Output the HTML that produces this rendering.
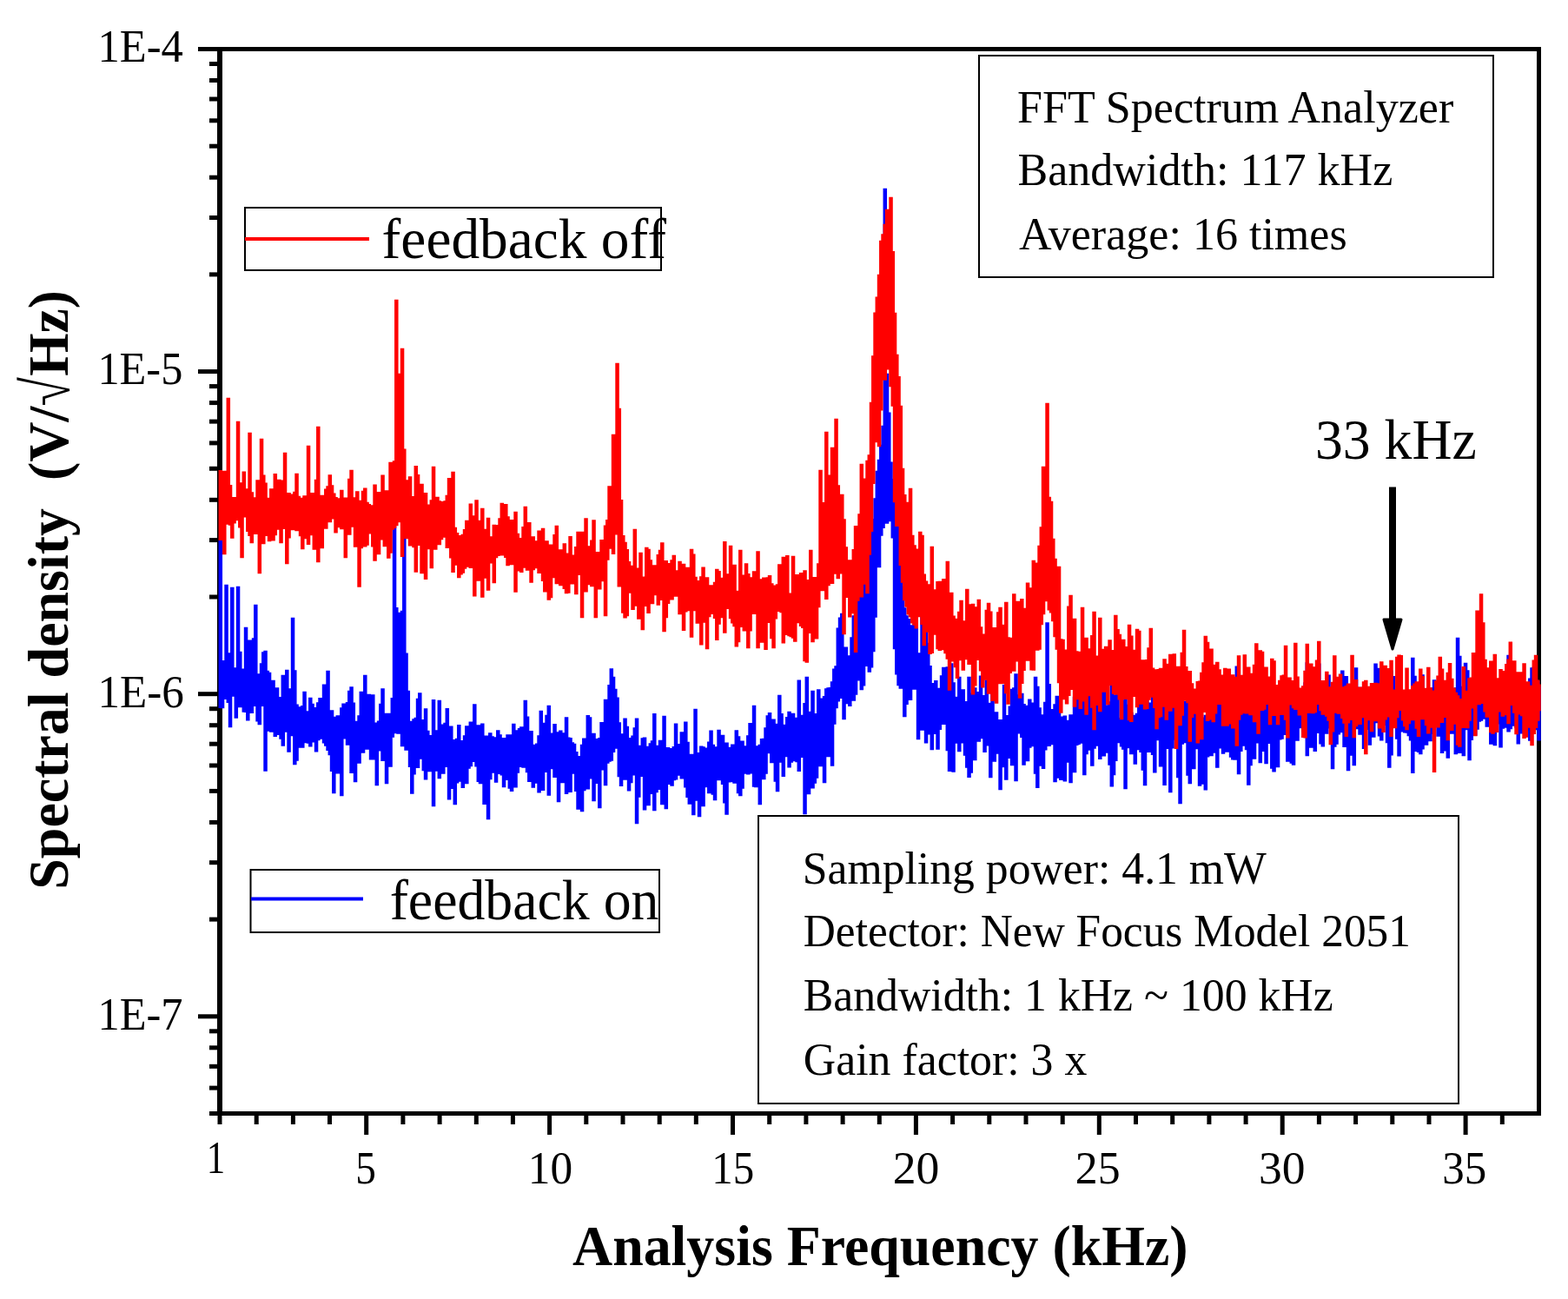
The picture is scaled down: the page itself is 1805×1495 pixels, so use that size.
<!DOCTYPE html>
<html><head><meta charset="utf-8"><title>Spectral density</title>
<style>html,body{margin:0;padding:0;background:#fff;} svg{display:block;}</style>
</head><body>
<svg width="1805" height="1495" viewBox="0 0 1805 1495"><rect x="0" y="0" width="1805" height="1495" fill="#fff"/>
<g fill="#000">
<rect x="250" y="54" width="6" height="1230"/>
<rect x="228" y="54" width="1546" height="5"/>
<rect x="1769" y="54" width="5" height="1230"/>
<rect x="241" y="1279" width="1533" height="5"/>
<rect x="228" y="425.1" width="24" height="5"/>
<rect x="241" y="313.4" width="11" height="5"/>
<rect x="241" y="248.0" width="11" height="5"/>
<rect x="241" y="201.7" width="11" height="5"/>
<rect x="241" y="165.7" width="11" height="5"/>
<rect x="241" y="136.3" width="11" height="5"/>
<rect x="241" y="111.5" width="11" height="5"/>
<rect x="241" y="90.0" width="11" height="5"/>
<rect x="241" y="71.0" width="11" height="5"/>
<rect x="228" y="796.2" width="24" height="5"/>
<rect x="241" y="684.5" width="11" height="5"/>
<rect x="241" y="619.1" width="11" height="5"/>
<rect x="241" y="572.8" width="11" height="5"/>
<rect x="241" y="536.8" width="11" height="5"/>
<rect x="241" y="507.4" width="11" height="5"/>
<rect x="241" y="482.6" width="11" height="5"/>
<rect x="241" y="461.1" width="11" height="5"/>
<rect x="241" y="442.1" width="11" height="5"/>
<rect x="228" y="1167.3" width="24" height="5"/>
<rect x="241" y="1055.6" width="11" height="5"/>
<rect x="241" y="990.2" width="11" height="5"/>
<rect x="241" y="943.9" width="11" height="5"/>
<rect x="241" y="907.9" width="11" height="5"/>
<rect x="241" y="878.5" width="11" height="5"/>
<rect x="241" y="853.7" width="11" height="5"/>
<rect x="241" y="832.2" width="11" height="5"/>
<rect x="241" y="813.2" width="11" height="5"/>
<rect x="241" y="1249.6" width="11" height="5"/>
<rect x="241" y="1224.8" width="11" height="5"/>
<rect x="241" y="1203.3" width="11" height="5"/>
<rect x="241" y="1184.3" width="11" height="5"/>
<rect x="250.5" y="1282" width="5" height="12"/>
<rect x="292.7" y="1282" width="5" height="12"/>
<rect x="334.9" y="1282" width="5" height="12"/>
<rect x="377.0" y="1282" width="5" height="12"/>
<rect x="419.2" y="1282" width="5" height="24"/>
<rect x="461.4" y="1282" width="5" height="12"/>
<rect x="503.6" y="1282" width="5" height="12"/>
<rect x="545.8" y="1282" width="5" height="12"/>
<rect x="587.9" y="1282" width="5" height="12"/>
<rect x="630.1" y="1282" width="5" height="24"/>
<rect x="672.3" y="1282" width="5" height="12"/>
<rect x="714.5" y="1282" width="5" height="12"/>
<rect x="756.7" y="1282" width="5" height="12"/>
<rect x="798.8" y="1282" width="5" height="12"/>
<rect x="841.0" y="1282" width="5" height="24"/>
<rect x="883.2" y="1282" width="5" height="12"/>
<rect x="925.4" y="1282" width="5" height="12"/>
<rect x="967.6" y="1282" width="5" height="12"/>
<rect x="1009.8" y="1282" width="5" height="12"/>
<rect x="1051.9" y="1282" width="5" height="24"/>
<rect x="1094.1" y="1282" width="5" height="12"/>
<rect x="1136.3" y="1282" width="5" height="12"/>
<rect x="1178.5" y="1282" width="5" height="12"/>
<rect x="1220.7" y="1282" width="5" height="12"/>
<rect x="1262.8" y="1282" width="5" height="24"/>
<rect x="1305.0" y="1282" width="5" height="12"/>
<rect x="1347.2" y="1282" width="5" height="12"/>
<rect x="1389.4" y="1282" width="5" height="12"/>
<rect x="1431.6" y="1282" width="5" height="12"/>
<rect x="1473.7" y="1282" width="5" height="24"/>
<rect x="1515.9" y="1282" width="5" height="12"/>
<rect x="1558.1" y="1282" width="5" height="12"/>
<rect x="1600.3" y="1282" width="5" height="12"/>
<rect x="1642.5" y="1282" width="5" height="12"/>
<rect x="1684.6" y="1282" width="5" height="24"/>
<rect x="1726.8" y="1282" width="5" height="12"/>
</g>
<g fill="none" stroke-width="4.5" stroke-linecap="square">
<path stroke="#0000ff" d="M253.80 624.2V812.8M256.05 772.2V813.1M258.30 762.2V802.7M260.55 675.0V797.1M262.80 754.8V806.7M265.05 753.5V835.0M267.30 678.0V797.7M269.55 771.5V799.6M271.80 770.5V824.4M274.05 677.0V803.5M276.30 752.0V812.0M278.55 774.2V811.1M280.80 771.8V817.6M283.05 724.0V817.7M285.30 782.9V827.2M287.55 738.8V814.5M289.80 766.2V818.8M292.05 736.5V810.7M294.30 698.0V810.8M296.55 777.5V828.3M298.80 779.5V831.9M301.05 765.5V810.7M303.30 752.4V809.6M305.55 751.0V885.5M307.80 774.0V824.2M310.05 776.1V839.5M312.30 787.8V840.6M314.55 784.9V830.5M316.80 800.6V845.7M319.05 793.6V831.6M321.30 805.6V843.7M323.55 804.3V848.6M325.80 779.0V856.5M328.05 785.4V840.6M330.30 773.0V830.0M332.55 794.6V863.5M334.80 805.3V845.1M337.05 713.0V843.4M339.30 773.5V878.0M341.55 812.8V873.5M343.80 815.5V858.4M346.05 816.8V855.6M348.30 814.2V858.4M350.55 798.1V853.1M352.80 820.5V852.5M355.05 822.6V853.6M357.30 805.0V857.3M359.55 812.0V852.3M361.80 816.3V845.8M364.05 819.0V863.3M366.30 810.6V849.9M368.55 805.2V835.8M370.80 810.8V848.6M373.05 789.8V853.2M375.30 827.4V856.6M377.55 774.0V861.8M379.80 837.5V866.9M382.05 819.6V885.8M384.30 833.4V911.0M386.55 826.9V860.1M388.80 825.4V888.2M391.05 830.7V863.3M393.30 816.5V914.0M395.55 811.7V848.3M397.80 821.0V844.5M400.05 810.2V855.5M402.30 797.0V849.3M404.55 792.5V887.7M406.80 810.8V867.8M409.05 832.0V898.0M411.30 833.1V868.7M413.55 825.4V876.4M415.80 798.0V861.9M418.05 802.1V864.6M420.30 779.0V856.5M422.55 829.5V860.4M424.80 801.0V858.2M427.05 821.2V872.2M429.30 801.5V872.3M431.55 833.8V858.2M433.80 837.0V902.0M436.05 831.7V862.3M438.30 812.0V858.4M440.55 794.4V873.7M442.80 829.8V859.4M445.05 823.0V900.0M447.30 829.6V850.5M449.55 823.0V880.4M451.80 805.2V846.6M454.05 594.0V842.1M456.30 701.2V834.3M458.55 707.4V842.4M460.80 706.9V829.1M463.05 705.0V857.1M465.30 622.0V838.4M467.55 753.7V861.4M469.80 797.0V861.6M472.05 844.4V880.7M474.30 831.9V911.6M476.55 829.5V889.3M478.80 828.1V874.5M481.05 806.0V881.7M483.30 799.4V871.6M485.55 830.3V862.5M487.80 837.2V885.1M490.05 817.4V895.2M492.30 843.1V871.6M494.55 848.3V885.9M496.80 851.0V875.3M499.05 807.3V926.0M501.30 851.6V885.6M503.55 842.6V874.1M505.80 808.0V894.1M508.05 836.9V887.6M510.30 835.7V888.5M512.55 834.1V876.7M514.80 817.2V880.7M517.05 855.3V918.2M519.30 837.8V905.7M521.55 858.2V886.6M523.80 853.3V924.0M526.05 852.1V899.2M528.30 836.3V882.0M530.55 854.2V897.6M532.80 854.7V904.7M535.05 848.6V894.8M537.30 837.5V899.9M539.55 838.5V882.5M541.80 832.7V880.0M544.05 835.0V870.4M546.30 812.4V874.8M548.55 851.4V880.3M550.80 836.4V897.8M553.05 863.6V900.0M555.30 834.7V888.7M557.55 853.0V923.7M559.80 848.8V894.8M562.05 861.4V941.0M564.30 845.6V895.1M566.55 849.4V887.6M568.80 850.6V873.7M571.05 855.7V898.4M573.30 842.5V888.7M575.55 847.5V886.3M577.80 852.1V890.2M580.05 851.2V904.0M582.30 852.1V891.6M584.55 847.5V895.7M586.80 855.7V905.6M589.05 847.5V908.7M591.30 835.0V894.5M593.55 859.3V904.3M595.80 842.4V887.4M598.05 840.3V880.7M600.30 838.4V879.4M602.55 858.1V881.5M604.80 808.0V881.2M607.05 826.8V886.9M609.30 854.4V897.8M611.55 843.3V889.3M613.80 860.1V904.5M616.05 858.9V895.9M618.30 857.7V899.5M620.55 848.5V910.2M622.80 820.1V889.6M625.05 834.0V907.7M627.30 855.4V886.7M629.55 825.0V881.8M631.80 814.1V913.4M634.05 850.3V882.9M636.30 845.7V871.9M638.55 835.2V892.8M640.80 844.5V878.3M643.05 849.9V921.0M645.30 842.7V891.8M647.55 858.2V898.9M649.80 845.6V889.5M652.05 827.4V911.7M654.30 850.8V899.1M656.55 851.3V909.8M658.80 856.4V888.5M661.05 858.1V887.0M663.30 867.2V908.7M665.55 874.8V929.6M667.80 872.2V895.7M670.05 859.0V932.1M672.30 851.7V908.1M674.55 874.6V903.2M676.80 825.2V906.3M679.05 827.6V894.3M681.30 846.9V890.3M683.55 845.9V919.9M685.80 857.2V888.9M688.05 852.3V899.7M690.30 851.3V928.0M692.55 833.2V884.2M694.80 857.2V880.0M697.05 807.0V901.9M699.30 818.7V876.4M701.55 790.2V874.4M703.80 771.5V873.5M706.05 780.9V863.8M708.30 795.1V856.8M710.55 804.7V859.6M712.80 833.4V891.9M715.05 846.5V902.7M717.30 853.0V888.9M719.55 828.8V895.4M721.80 838.1V893.8M724.05 862.4V908.3M726.30 851.2V898.9M728.55 848.8V883.8M730.80 839.5V890.2M733.05 828.8V946.0M735.30 860.5V915.5M737.55 860.0V888.6M739.80 851.4V891.8M742.05 850.8V930.2M744.30 861.0V890.8M746.55 863.5V925.0M748.80 857.5V901.7M751.05 854.4V911.8M753.30 823.3V930.9M755.55 861.0V909.9M757.80 859.9V906.7M760.05 853.9V897.2M762.30 865.0V924.0M764.55 826.0V920.3M766.80 866.2V929.1M769.05 862.3V895.1M771.30 868.6V900.8M773.55 863.2V902.6M775.80 861.3V896.0M778.05 834.7V895.2M780.30 858.2V888.2M782.55 865.7V890.6M784.80 844.6V894.2M787.05 847.2V890.7M789.30 832.8V904.3M791.55 855.9V915.7M793.80 869.9V923.5M796.05 870.8V905.4M798.30 869.9V936.0M800.55 818.0V919.6M802.80 868.2V917.2M805.05 871.2V938.0M807.30 860.8V890.6M809.55 861.6V925.9M811.80 863.6V899.5M814.05 862.8V904.1M816.30 855.8V911.1M818.55 842.7V891.4M820.80 859.0V912.4M823.05 864.0V919.0M825.30 861.6V894.9M827.55 842.0V895.9M829.80 868.5V890.1M832.05 848.0V900.7M834.30 869.2V922.2M836.55 856.7V935.5M838.80 862.1V898.3M841.05 865.3V897.9M843.30 858.7V889.6M845.55 861.9V899.4M847.80 842.6V887.7M850.05 849.5V910.9M852.30 856.6V914.0M854.55 854.8V905.6M856.80 862.7V888.6M859.05 860.4V888.4M861.30 848.5V889.3M863.55 834.3V885.3M865.80 858.8V888.3M868.05 814.0V903.4M870.30 865.7V904.1M872.55 860.4V888.9M874.80 859.0V924.1M877.05 852.2V891.8M879.30 852.1V895.0M881.55 839.5V888.5M883.80 825.6V862.1M886.05 822.2V865.1M888.30 836.4V876.0M890.55 829.8V864.7M892.80 834.9V897.4M895.05 842.5V909.0M897.30 802.0V875.4M899.55 823.2V869.2M901.80 841.6V891.7M904.05 836.1V868.9M906.30 827.3V863.5M908.55 820.9V881.2M910.80 824.4V875.6M913.05 822.9V872.1M915.30 827.9V874.1M917.55 830.4V875.1M919.80 784.7V885.7M922.05 825.1V863.4M924.30 835.0V869.8M926.55 811.2V935.0M928.80 781.0V871.9M931.05 824.1V911.9M933.30 820.9V891.0M935.55 797.0V905.3M937.80 826.9V899.4M940.05 823.3V893.4M942.30 795.6V877.7M944.55 815.9V879.9M946.80 805.7V856.7M949.05 803.2V899.0M951.30 794.4V852.3M953.55 793.4V869.0M955.80 793.3V853.2M958.05 786.6V879.6M960.30 771.7V831.6M962.55 768.4V812.9M964.80 724.7V805.2M967.05 712.7V801.7M969.30 708.1V799.7M971.55 759.4V826.0M973.80 746.8V795.5M976.05 757.8V807.9M978.30 756.6V810.8M980.55 735.5V789.7M982.80 710.6V804.5M985.05 696.1V797.4M987.30 682.1V781.2M989.55 673.1V779.3M991.80 665.4V792.0M994.05 655.4V787.3M996.30 650.9V758.2M998.55 641.8V764.8M1000.80 634.1V771.5M1003.05 616.5V766.3M1005.30 599.2V748.0M1007.55 575.5V708.6M1009.80 544.1V645.3M1012.05 531.0V651.0M1014.30 514.0V614.4M1016.55 492.1V605.7M1018.80 219.0V580.9M1021.05 432.0V600.6M1023.30 476.7V581.8M1025.55 533.8V598.1M1027.80 553.2V617.2M1030.05 564.1V745.0M1032.30 588.6V774.3M1034.55 599.2V786.9M1036.80 635.7V790.4M1039.05 677.1V786.2M1041.30 701.4V823.0M1043.55 710.6V808.7M1045.80 714.3V791.4M1048.05 721.4V803.8M1050.30 730.2V790.4M1052.55 699.2V791.5M1054.80 724.5V786.6M1057.05 755.8V849.0M1059.30 753.5V837.7M1061.55 710.0V838.4M1063.80 776.1V830.9M1066.05 722.0V853.2M1068.30 742.0V843.2M1070.55 768.3V840.1M1072.80 808.4V861.1M1075.05 788.2V827.6M1077.30 785.2V842.7M1079.55 793.9V860.6M1081.80 797.0V837.8M1084.05 779.5V830.9M1086.30 770.1V831.8M1088.55 775.3V829.2M1090.80 769.4V862.0M1093.05 803.0V885.8M1095.30 765.5V838.0M1097.55 787.6V886.5M1099.80 804.0V846.3M1102.05 821.1V853.4M1104.30 781.0V862.9M1106.55 817.0V853.3M1108.80 795.4V852.5M1111.05 812.1V867.5M1113.30 809.3V881.5M1115.55 780.9V892.8M1117.80 802.4V887.4M1120.05 799.7V841.3M1122.30 793.5V873.0M1124.55 798.3V850.1M1126.80 812.5V851.5M1129.05 779.7V837.6M1131.30 802.2V848.1M1133.55 810.0V863.8M1135.80 784.6V847.8M1138.05 811.1V856.3M1140.30 814.1V893.0M1142.55 788.1V862.0M1144.80 827.5V874.5M1147.05 821.6V861.1M1149.30 830.7V865.5M1151.55 830.2V907.0M1153.80 835.1V881.0M1156.05 790.0V867.7M1158.30 833.0V895.6M1160.55 825.2V870.7M1162.80 814.7V850.8M1165.05 795.1V879.1M1167.30 793.4V839.6M1169.55 777.4V897.0M1171.80 801.6V835.9M1174.05 807.0V842.3M1176.30 800.0V846.8M1178.55 812.3V878.6M1180.80 823.3V864.6M1183.05 813.9V873.9M1185.30 806.7V858.4M1187.55 810.7V850.6M1189.80 826.0V857.0M1192.05 781.0V888.6M1194.30 792.0V904.7M1196.55 816.6V862.7M1198.80 824.6V879.5M1201.05 832.3V882.8M1203.30 810.1V861.3M1205.55 718.5V856.7M1207.80 789.2V856.7M1210.05 818.3V855.0M1212.30 822.6V849.8M1214.55 812.6V898.0M1216.80 803.1V893.6M1219.05 808.1V877.3M1221.30 826.8V895.8M1223.55 833.6V872.1M1225.80 825.8V897.2M1228.05 831.0V861.1M1230.30 835.3V875.4M1232.55 824.4V899.0M1234.80 825.8V862.0M1237.05 804.0V887.0M1239.30 817.4V855.7M1241.55 781.0V854.7M1243.80 777.6V853.5M1246.05 800.8V851.3M1248.30 814.0V890.0M1250.55 805.3V866.0M1252.80 775.8V850.4M1255.05 790.7V861.6M1257.30 801.5V879.4M1259.55 790.7V859.4M1261.80 813.3V856.5M1264.05 797.1V848.1M1266.30 795.6V871.7M1268.55 801.6V867.5M1270.80 787.4V868.2M1273.05 813.5V842.6M1275.30 814.7V864.4M1277.55 809.6V878.6M1279.80 782.3V903.2M1282.05 827.8V889.9M1284.30 801.5V873.8M1286.55 775.4V853.0M1288.80 828.2V852.8M1291.05 828.4V857.2M1293.30 807.7V860.6M1295.55 800.9V906.0M1297.80 827.5V858.0M1300.05 813.0V859.1M1302.30 822.1V866.0M1304.55 825.1V863.6M1306.80 828.5V877.5M1309.05 823.0V861.0M1311.30 801.1V854.5M1313.55 792.9V863.8M1315.80 820.1V884.5M1318.05 797.9V902.0M1320.30 785.6V843.3M1322.55 812.6V863.7M1324.80 810.8V849.7M1327.05 793.2V866.8M1329.30 814.8V887.3M1331.55 794.1V850.1M1333.80 815.9V844.8M1336.05 823.4V880.2M1338.30 790.1V849.7M1340.55 804.9V901.8M1342.80 797.9V859.7M1345.05 828.0V859.1M1347.30 777.2V910.0M1349.55 802.2V859.3M1351.80 815.6V849.5M1354.05 803.8V845.6M1356.30 796.9V893.0M1358.55 815.2V923.0M1360.80 800.5V854.6M1363.05 809.0V842.3M1365.30 819.5V852.9M1367.55 806.3V890.6M1369.80 801.3V899.9M1372.05 818.5V864.5M1374.30 818.4V883.0M1376.55 826.7V853.2M1378.80 818.8V860.0M1381.05 792.7V902.4M1383.30 832.0V879.1M1385.55 827.8V900.6M1387.80 825.1V907.3M1390.05 834.1V869.3M1392.30 825.7V860.1M1394.55 821.2V867.9M1396.80 830.1V858.4M1399.05 784.4V864.6M1401.30 823.8V881.6M1403.55 799.6V850.0M1405.80 823.9V859.3M1408.05 797.7V865.5M1410.30 804.1V859.0M1412.55 805.1V863.4M1414.80 818.1V855.1M1417.05 824.1V869.4M1419.30 822.5V872.2M1421.55 808.5V872.4M1423.80 768.7V840.4M1426.05 809.6V889.0M1428.30 782.8V862.8M1430.55 803.9V856.6M1432.80 806.3V840.0M1435.05 814.2V860.9M1437.30 784.8V901.6M1439.55 785.9V878.9M1441.80 798.7V857.7M1444.05 812.8V871.6M1446.30 816.6V851.9M1448.55 823.3V853.3M1450.80 796.4V875.9M1453.05 826.9V855.2M1455.30 814.6V862.7M1457.55 785.9V877.0M1459.80 820.0V853.8M1462.05 800.9V846.2M1464.30 809.1V882.6M1466.55 816.8V886.2M1468.80 804.6V839.5M1471.05 815.6V881.0M1473.30 792.3V849.3M1475.55 807.8V848.5M1477.80 802.8V843.7M1480.05 807.7V838.6M1482.30 803.0V874.5M1484.55 799.4V828.4M1486.80 807.5V876.6M1489.05 805.5V878.6M1491.30 802.2V845.5M1493.55 810.8V850.6M1495.80 794.9V832.7M1498.05 805.1V835.9M1500.30 810.4V840.4M1502.55 787.4V840.9M1504.80 764.4V868.0M1507.05 798.7V837.5M1509.30 811.7V858.4M1511.55 802.7V846.8M1513.80 813.5V862.8M1516.05 797.1V841.8M1518.30 765.8V833.2M1520.55 793.9V854.3M1522.80 802.7V857.2M1525.05 794.1V837.0M1527.30 815.2V842.5M1529.55 778.8V836.3M1531.80 808.8V836.2M1534.05 817.1V883.0M1536.30 803.6V857.4M1538.55 813.7V854.4M1540.80 812.4V843.3M1543.05 805.7V840.9M1545.30 773.8V833.1M1547.55 811.0V857.8M1549.80 780.2V834.0M1552.05 794.8V885.0M1554.30 802.9V867.4M1556.55 793.5V826.8M1558.80 790.3V879.0M1561.05 770.4V833.2M1563.30 805.4V837.1M1565.55 793.0V843.4M1567.80 802.9V839.8M1570.05 795.6V859.7M1572.30 794.6V836.7M1574.55 804.1V837.7M1576.80 798.9V855.4M1579.05 801.5V824.0M1581.30 800.0V846.4M1583.55 765.8V829.9M1585.80 771.0V829.1M1588.05 803.0V845.2M1590.30 801.1V850.3M1592.55 783.2V829.5M1594.80 774.1V832.8M1597.05 780.6V853.0M1599.30 781.8V881.5M1601.55 773.8V867.3M1603.80 780.3V832.3M1606.05 803.9V835.3M1608.30 808.1V848.4M1610.55 812.0V868.2M1612.80 809.4V839.1M1615.05 800.9V840.2M1617.30 808.0V841.2M1619.55 813.3V841.6M1621.80 800.3V845.0M1624.05 812.3V850.2M1626.30 759.0V887.7M1628.55 780.0V842.3M1630.80 811.3V862.8M1633.05 796.3V863.7M1635.30 824.5V866.0M1637.55 778.6V860.3M1639.80 809.5V842.3M1642.05 802.1V855.4M1644.30 798.4V836.9M1646.55 797.7V850.9M1648.80 793.6V842.8M1651.05 784.4V824.3M1653.30 799.2V828.3M1655.55 792.4V845.5M1657.80 796.3V842.7M1660.05 797.0V864.8M1662.30 788.9V844.1M1664.55 805.6V862.3M1666.80 798.3V870.4M1669.05 797.0V830.7M1671.30 798.6V842.4M1673.55 804.5V832.8M1675.80 793.4V866.1M1678.05 736.0V843.6M1680.30 757.1V864.7M1682.55 792.1V834.6M1684.80 794.6V868.0M1687.05 764.9V831.7M1689.30 773.4V838.1M1691.55 801.1V872.9M1693.80 789.4V849.8M1696.05 791.0V836.2M1698.30 801.8V844.5M1700.55 776.4V837.4M1702.80 797.7V828.5M1705.05 765.6V827.6M1707.30 788.1V822.1M1709.55 803.5V825.5M1711.80 799.7V834.6M1714.05 804.0V830.0M1716.30 797.8V854.6M1718.55 772.2V837.4M1720.80 787.4V856.0M1723.05 793.0V830.5M1725.30 786.9V831.2M1727.55 789.4V858.2M1729.80 801.3V836.4M1732.05 791.3V823.3M1734.30 794.1V835.5M1736.55 756.0V840.3M1738.80 773.5V837.1M1741.05 766.5V822.3M1743.30 803.6V833.5M1745.55 797.7V835.4M1747.80 799.5V854.3M1750.05 788.1V827.5M1752.30 792.6V842.3M1754.55 801.5V830.6M1756.80 789.9V822.2M1759.05 794.3V839.1M1761.30 782.7V850.5M1763.55 770.4V821.0M1765.80 769.8V813.9M1768.05 783.8V838.0M1770.30 786.0V832.1M1771.50 792.0V850.2"/>
<path stroke="#ff0000" d="M253.80 543.2V619.8M256.05 570.8V598.1M258.30 543.9V636.0M260.55 577.2V601.6M262.80 460.0V598.0M265.05 560.2V602.5M267.30 576.0V617.6M269.55 574.2V600.3M271.80 577.6V597.0M274.05 487.0V594.6M276.30 557.5V605.2M278.55 569.1V640.0M280.80 544.7V587.0M283.05 564.6V593.3M285.30 565.7V609.8M287.55 500.0V614.7M289.80 568.4V623.0M292.05 574.6V607.2M294.30 579.7V612.7M296.55 554.5V610.8M298.80 576.7V658.0M301.05 507.0V619.4M303.30 548.8V623.9M305.55 557.7V614.8M307.80 575.1V612.6M310.05 578.3V621.0M312.30 564.6V602.9M314.55 581.0V620.2M316.80 547.2V613.9M319.05 581.8V607.4M321.30 554.1V605.0M323.55 554.8V623.1M325.80 575.7V599.0M328.05 523.0V606.7M330.30 581.8V647.0M332.55 569.2V617.3M334.80 570.8V605.1M337.05 583.4V607.9M339.30 568.1V602.6M341.55 546.9V608.9M343.80 572.9V606.0M346.05 576.2V615.0M348.30 575.0V629.9M350.55 572.6V617.9M352.80 582.6V607.9M355.05 515.0V624.7M357.30 576.5V614.0M359.55 569.3V608.3M361.80 575.3V630.4M364.05 554.0V615.3M366.30 493.0V645.0M368.55 572.1V625.4M370.80 573.4V629.0M373.05 572.1V591.6M375.30 564.8V606.4M377.55 561.6V594.6M379.80 548.6V599.1M382.05 560.6V595.2M384.30 569.7V594.2M386.55 574.2V611.2M388.80 577.5V601.3M391.05 575.4V605.1M393.30 566.1V606.9M395.55 576.0V606.3M397.80 574.8V640.0M400.05 583.4V613.5M402.30 553.0V613.6M404.55 543.1V597.5M406.80 579.0V604.6M409.05 574.6V627.6M411.30 567.4V624.2M413.55 578.0V673.6M415.80 580.3V628.9M418.05 567.1V611.4M420.30 563.7V627.2M422.55 580.0V625.6M424.80 582.2V610.0M427.05 587.6V612.2M429.30 583.5V627.3M431.55 559.8V643.5M433.80 578.2V608.6M436.05 568.3V636.0M438.30 578.6V602.8M440.55 548.8V619.2M442.80 579.5V627.0M445.05 566.6V607.7M447.30 577.4V640.5M449.55 534.0V634.4M451.80 570.1V607.6M454.05 532.6V605.8M456.30 347.0V603.0M458.55 432.0V587.1M460.80 472.0V599.0M463.05 403.0V638.8M465.30 518.8V617.8M467.55 554.5V594.8M469.80 556.6V617.9M472.05 550.5V626.3M474.30 573.3V607.2M476.55 583.0V628.1M478.80 538.3V656.6M481.05 548.3V625.7M483.30 583.3V617.4M485.55 559.0V658.0M487.80 592.6V633.1M490.05 569.2V664.8M492.30 587.4V630.1M494.55 582.8V615.5M496.80 577.5V652.0M499.05 538.9V625.1M501.30 576.4V630.5M503.55 574.1V606.0M505.80 578.6V625.0M508.05 579.2V618.9M510.30 582.6V616.6M512.55 578.6V613.4M514.80 571.9V628.7M517.05 552.2V623.1M519.30 596.9V640.3M521.55 545.0V656.7M523.80 608.9V646.1M526.05 615.2V648.5M528.30 620.6V662.9M530.55 618.2V659.2M532.80 617.1V657.6M535.05 611.3V652.5M537.30 601.0V647.1M539.55 604.6V650.5M541.80 581.8V651.7M544.05 595.4V645.1M546.30 602.9V684.2M548.55 577.4V664.6M550.80 602.5V666.6M553.05 601.0V646.5M555.30 587.0V685.5M557.55 610.9V663.6M559.80 622.8V650.4M562.05 598.1V677.5M564.30 622.7V645.1M566.55 619.4V646.2M568.80 606.1V669.0M571.05 606.3V640.1M573.30 609.5V637.7M575.55 598.4V636.2M577.80 581.0V637.3M580.05 608.0V636.2M582.30 582.2V639.8M584.55 596.5V649.0M586.80 601.7V642.3M589.05 600.3V647.9M591.30 606.9V645.3M593.55 590.9V679.6M595.80 615.9V646.2M598.05 621.3V655.3M600.30 631.1V656.7M602.55 608.2V651.5M604.80 585.0V650.6M607.05 612.0V654.6M609.30 603.2V650.2M611.55 630.8V668.5M613.80 619.6V654.0M616.05 626.8V650.9M618.30 624.5V652.1M620.55 612.7V657.8M622.80 629.3V651.1M625.05 609.9V666.7M627.30 624.5V679.3M629.55 624.6V655.5M631.80 630.5V688.6M634.05 628.7V686.0M636.30 637.6V662.9M638.55 617.3V658.5M640.80 607.0V670.0M643.05 644.2V669.5M645.30 634.4V672.1M647.55 638.7V669.2M649.80 627.5V675.8M652.05 638.7V681.0M654.30 639.5V680.6M656.55 619.2V659.6M658.80 644.7V670.2M661.05 640.8V667.2M663.30 631.3V682.0M665.55 614.0V659.7M667.80 629.9V657.2M670.05 614.1V709.0M672.30 630.6V669.2M674.55 598.5V679.2M676.80 630.4V667.4M679.05 634.0V671.1M681.30 623.7V672.9M683.55 600.6V667.4M685.80 639.2V709.0M688.05 637.2V667.5M690.30 639.0V676.3M692.55 623.2V666.9M694.80 624.0V662.2M697.05 606.8V707.0M699.30 600.2V642.4M701.55 561.6V629.5M703.80 574.3V610.4M706.05 502.0V635.7M708.30 563.4V602.3M710.55 420.0V613.2M712.80 472.0V673.3M715.05 577.2V667.3M717.30 618.3V703.6M719.55 626.1V709.2M721.80 634.3V707.0M724.05 648.3V680.6M726.30 653.7V677.8M728.55 652.9V699.7M730.80 611.0V695.5M733.05 655.7V683.6M735.30 660.2V710.6M737.55 638.0V689.1M739.80 665.8V723.1M742.05 671.4V695.8M744.30 632.0V693.4M746.55 634.1V703.8M748.80 646.5V690.4M751.05 661.2V692.9M753.30 652.4V682.9M755.55 653.0V679.0M757.80 640.3V694.4M760.05 635.1V688.8M762.30 626.5V687.2M764.55 649.2V725.0M766.80 647.3V709.0M769.05 650.4V692.8M771.30 650.3V683.3M773.55 646.5V688.2M775.80 641.1V681.0M778.05 658.4V684.6M780.30 660.7V683.6M782.55 647.9V705.1M784.80 663.9V697.2M787.05 651.1V723.7M789.30 664.9V702.2M791.55 655.0V696.1M793.80 665.7V701.0M796.05 634.0V731.4M798.30 639.7V694.8M800.55 666.1V700.9M802.80 670.3V715.6M805.05 677.6V706.8M807.30 665.5V740.3M809.55 654.7V708.1M811.80 673.4V714.5M814.05 666.6V745.0M816.30 678.5V707.9M818.55 675.4V701.2M820.80 678.6V704.7M823.05 672.0V709.7M825.30 657.0V734.8M827.55 659.3V716.6M829.80 667.8V708.9M832.05 667.1V689.5M834.30 625.2V726.5M836.55 662.5V689.0M838.80 669.5V698.7M841.05 629.9V710.0M843.30 654.5V715.2M845.55 652.1V719.1M847.80 682.1V742.2M850.05 687.5V737.0M852.30 635.0V719.8M854.55 663.8V713.9M856.80 691.6V724.3M859.05 650.5V720.6M861.30 662.3V744.0M863.55 675.1V724.2M865.80 666.6V691.9M868.05 659.6V704.7M870.30 663.8V700.7M872.55 636.4V744.0M874.80 668.6V706.1M877.05 676.8V737.6M879.30 666.8V712.2M881.55 674.5V745.8M883.80 666.4V714.7M886.05 664.3V709.5M888.30 673.4V733.0M890.55 675.8V744.0M892.80 676.2V710.3M895.05 674.4V701.7M897.30 651.6V699.7M899.55 670.7V702.9M901.80 643.1V738.3M904.05 671.6V698.7M906.30 641.2V728.8M908.55 686.6V729.9M910.80 684.8V731.0M913.05 642.0V732.4M915.30 663.3V736.5M917.55 676.5V715.0M919.80 663.2V711.0M922.05 661.2V718.8M924.30 667.1V720.8M926.55 658.5V759.0M928.80 692.9V760.5M931.05 669.3V726.7M933.30 635.0V722.9M935.55 677.0V737.0M937.80 666.2V720.4M940.05 670.9V733.2M942.30 650.5V697.0M944.55 543.0V677.9M946.80 601.2V672.8M949.05 580.2V678.0M951.30 499.0V687.8M953.55 554.4V671.9M955.80 548.8V656.5M958.05 517.0V669.7M960.30 548.0V654.6M962.55 484.0V658.4M964.80 560.5V664.1M967.05 577.0V639.7M969.30 571.0V658.3M971.55 599.4V728.0M973.80 631.4V685.8M976.05 647.2V678.8M978.30 646.6V708.2M980.55 649.6V686.0M982.80 634.3V703.9M985.05 607.2V748.7M987.30 607.8V689.6M989.55 593.6V683.5M991.80 536.0V685.2M994.05 559.5V670.6M996.30 552.7V664.0M998.55 532.0V680.9M1000.80 525.5V636.6M1003.05 464.9V609.7M1005.30 411.5V554.8M1007.55 361.8V506.9M1009.80 343.7V489.5M1012.05 317.9V512.1M1014.30 279.0V470.3M1016.55 271.6V423.6M1018.80 260.0V435.6M1021.05 243.0V423.2M1023.30 244.7V422.3M1025.55 229.0V442.9M1027.80 291.3V465.4M1030.05 362.0V576.1M1032.30 410.1V603.7M1034.55 435.3V598.7M1036.80 469.0V648.8M1039.05 540.9V668.6M1041.30 571.3V689.1M1043.55 580.1V696.6M1045.80 595.5V705.3M1048.05 564.0V708.3M1050.30 618.1V715.2M1052.55 629.5V717.5M1054.80 633.8V721.3M1057.05 651.0V705.9M1059.30 614.1V707.9M1061.55 618.0V716.7M1063.80 662.8V741.1M1066.05 670.7V723.7M1068.30 674.4V725.4M1070.55 681.7V750.8M1072.80 631.0V749.7M1075.05 680.6V716.4M1077.30 686.9V728.5M1079.55 671.3V745.0M1081.80 671.0V746.8M1084.05 700.9V746.0M1086.30 668.3V737.0M1088.55 691.5V750.1M1090.80 648.0V756.5M1093.05 712.7V792.5M1095.30 684.1V759.1M1097.55 710.7V759.2M1099.80 714.1V765.9M1102.05 718.0V778.8M1104.30 705.9V753.4M1106.55 693.1V758.0M1108.80 716.4V769.6M1111.05 721.0V748.0M1113.30 680.0V757.0M1115.55 719.4V762.7M1117.80 697.4V762.8M1120.05 697.0V797.3M1122.30 712.6V787.2M1124.55 700.4V757.7M1126.80 692.0V753.3M1129.05 723.4V770.3M1131.30 731.7V789.2M1133.55 735.9V780.5M1135.80 703.9V776.7M1138.05 696.0V796.4M1140.30 705.8V770.0M1142.55 732.4V804.7M1144.80 724.3V794.9M1147.05 735.3V807.6M1149.30 706.4V774.6M1151.55 701.1V785.1M1153.80 720.9V763.9M1156.05 721.7V784.7M1158.30 695.1V796.0M1160.55 735.4V808.4M1162.80 736.0V772.7M1165.05 737.0V764.8M1167.30 685.5V770.6M1169.55 718.9V759.2M1171.80 694.1V758.2M1174.05 724.3V801.5M1176.30 691.2V784.8M1178.55 701.9V769.8M1180.80 709.5V748.0M1183.05 672.8V758.6M1185.30 709.8V756.7M1187.55 678.4V769.3M1189.80 647.0V769.6M1192.05 657.7V736.2M1194.30 649.8V746.6M1196.55 630.0V745.6M1198.80 608.4V716.9M1201.05 539.0V705.1M1203.30 565.7V689.9M1205.55 466.0V681.3M1207.80 574.0V700.2M1210.05 579.0V703.2M1212.30 621.9V713.0M1214.55 645.0V731.0M1216.80 693.6V745.6M1219.05 654.0V784.1M1221.30 737.6V818.4M1223.55 738.0V793.4M1225.80 749.7V803.0M1228.05 757.0V808.2M1230.30 699.8V798.7M1232.55 687.0V791.7M1234.80 724.2V785.4M1237.05 713.9V811.4M1239.30 751.4V791.7M1241.55 762.3V803.1M1243.80 751.9V813.7M1246.05 701.0V805.2M1248.30 761.0V798.6M1250.55 735.9V820.6M1252.80 761.7V798.8M1255.05 748.4V798.9M1257.30 733.3V812.4M1259.55 706.0V838.1M1261.80 767.4V805.9M1264.05 756.8V809.8M1266.30 713.1V817.0M1268.55 753.6V788.5M1270.80 749.1V794.4M1273.05 746.1V794.5M1275.30 749.0V808.9M1277.55 738.6V786.7M1279.80 754.0V786.6M1282.05 750.2V796.6M1284.30 710.0V797.4M1286.55 726.2V795.2M1288.80 732.0V803.3M1291.05 742.9V826.1M1293.30 738.1V793.0M1295.55 746.5V802.8M1297.80 746.3V782.5M1300.05 721.1V827.0M1302.30 733.7V828.7M1304.55 759.4V786.0M1306.80 749.9V799.7M1309.05 726.1V812.1M1311.30 727.9V800.3M1313.55 765.7V808.5M1315.80 761.4V796.5M1318.05 771.6V814.3M1320.30 761.2V813.8M1322.55 747.4V803.4M1324.80 725.0V800.6M1327.05 770.8V795.9M1329.30 773.9V812.8M1331.55 772.5V837.0M1333.80 772.3V824.1M1336.05 770.9V823.0M1338.30 771.6V811.6M1340.55 760.6V800.5M1342.80 774.6V826.6M1345.05 766.0V799.0M1347.30 754.9V816.6M1349.55 768.3V808.4M1351.80 754.5V812.5M1354.05 769.8V859.7M1356.30 769.1V800.5M1358.55 769.1V833.1M1360.80 753.0V821.6M1363.05 727.0V797.9M1365.30 769.2V804.4M1367.55 782.2V807.0M1369.80 774.2V851.4M1372.05 788.6V823.8M1374.30 794.8V818.8M1376.55 795.8V819.6M1378.80 786.2V853.2M1381.05 785.7V814.1M1383.30 776.1V849.0M1385.55 764.5V809.5M1387.80 734.0V817.7M1390.05 741.1V827.8M1392.30 755.7V808.7M1394.55 748.8V826.3M1396.80 767.0V828.9M1399.05 775.9V819.2M1401.30 764.0V805.5M1403.55 772.6V808.8M1405.80 778.8V805.5M1408.05 785.4V833.6M1410.30 771.0V814.4M1412.55 786.2V833.5M1414.80 771.7V831.3M1417.05 786.7V828.1M1419.30 778.6V836.2M1421.55 782.4V819.0M1423.80 781.0V856.4M1426.05 756.5V826.5M1428.30 790.2V820.5M1430.55 779.1V819.1M1432.80 755.4V815.3M1435.05 779.6V819.3M1437.30 769.8V808.8M1439.55 777.1V820.9M1441.80 782.1V806.0M1444.05 767.0V829.1M1446.30 742.6V805.0M1448.55 774.8V842.6M1450.80 750.5V811.0M1453.05 752.0V815.7M1455.30 770.0V814.6M1457.55 769.7V808.8M1459.80 780.7V805.9M1462.05 786.1V831.9M1464.30 760.0V807.5M1466.55 762.4V821.8M1468.80 792.7V814.8M1471.05 790.3V832.0M1473.30 785.1V817.4M1475.55 779.5V820.7M1477.80 778.8V813.4M1480.05 745.0V826.6M1482.30 787.9V847.3M1484.55 781.8V809.3M1486.80 785.3V807.4M1489.05 790.5V813.0M1491.30 742.0V814.7M1493.55 780.7V812.9M1495.80 793.8V821.2M1498.05 794.9V817.8M1500.30 791.5V846.7M1502.55 774.0V847.3M1504.80 743.0V811.8M1507.05 788.0V818.8M1509.30 765.7V814.0M1511.55 769.6V819.1M1513.80 777.9V818.1M1516.05 761.8V806.3M1518.30 740.0V808.8M1520.55 793.9V816.0M1522.80 785.2V820.6M1525.05 789.6V820.1M1527.30 775.0V822.4M1529.55 792.4V827.5M1531.80 796.7V855.1M1534.05 786.9V840.3M1536.30 756.5V818.2M1538.55 781.1V818.4M1540.80 792.5V819.4M1543.05 777.7V818.3M1545.30 792.4V824.8M1547.55 799.2V830.4M1549.80 791.3V845.7M1552.05 788.8V830.2M1554.30 794.1V826.8M1556.55 756.0V818.3M1558.80 793.8V847.1M1561.05 784.2V834.1M1563.30 795.0V822.3M1565.55 792.8V831.8M1567.80 795.8V823.9M1570.05 786.6V818.4M1572.30 784.9V866.0M1574.55 792.0V827.0M1576.80 794.7V819.2M1579.05 788.2V839.9M1581.30 798.4V827.5M1583.55 788.0V828.1M1585.80 788.5V826.9M1588.05 792.0V836.3M1590.30 763.5V831.7M1592.55 795.1V840.7M1594.80 768.0V826.3M1597.05 778.7V823.2M1599.30 771.3V823.3M1601.55 762.0V845.7M1603.80 800.8V835.9M1606.05 795.7V835.9M1608.30 758.0V823.9M1610.55 755.7V813.6M1612.80 756.2V815.8M1615.05 795.7V827.2M1617.30 797.9V833.9M1619.55 770.8V837.9M1621.80 795.5V831.0M1624.05 796.6V827.1M1626.30 791.3V827.1M1628.55 788.7V815.8M1630.80 786.4V836.4M1633.05 792.7V845.8M1635.30 771.7V825.7M1637.55 780.2V826.0M1639.80 794.0V825.5M1642.05 794.5V833.1M1644.30 770.1V842.2M1646.55 793.6V835.4M1648.80 796.8V820.1M1651.05 797.1V886.7M1653.30 785.4V826.4M1655.55 779.7V835.3M1657.80 758.0V814.9M1660.05 771.7V829.8M1662.30 784.9V823.7M1664.55 787.4V816.7M1666.80 776.0V850.1M1669.05 765.3V816.8M1671.30 783.0V838.7M1673.55 793.7V831.4M1675.80 798.9V829.8M1678.05 802.6V855.4M1680.30 811.3V857.4M1682.55 806.3V835.1M1684.80 769.2V835.8M1687.05 801.9V828.9M1689.30 797.0V836.0M1691.55 782.4V827.6M1693.80 781.7V813.3M1696.05 753.3V802.9M1698.30 754.0V845.0M1700.55 704.7V794.0M1702.80 741.0V809.1M1705.05 685.5V807.7M1707.30 718.5V805.9M1709.55 761.1V817.2M1711.80 785.5V823.6M1714.05 770.6V822.4M1716.30 762.7V841.0M1718.55 790.1V842.4M1720.80 755.0V833.2M1723.05 783.1V840.7M1725.30 782.6V815.4M1727.55 772.2V817.3M1729.80 777.3V822.6M1732.05 774.2V820.9M1734.30 766.3V820.3M1736.55 760.8V831.1M1738.80 740.7V809.7M1741.05 762.5V804.8M1743.30 762.4V818.5M1745.55 779.2V843.0M1747.80 775.5V813.6M1750.05 775.4V820.3M1752.30 795.4V822.1M1754.55 765.5V847.7M1756.80 792.9V846.4M1759.05 786.4V835.5M1761.30 791.0V825.4M1763.55 800.2V856.1M1765.80 761.7V842.7M1768.05 756.0V835.7M1770.30 784.7V827.5M1771.50 789.7V816.0"/>
</g>
<g fill="#000">
<text transform="matrix(0.9734,0,0,1,112.42,71.10)" font-family="'Liberation Serif', 'Times New Roman', serif" font-size="52" style="white-space:pre">1E-4</text>
<text transform="matrix(0.9683,0,0,1,112.44,441.80)" font-family="'Liberation Serif', 'Times New Roman', serif" font-size="52" style="white-space:pre">1E-5</text>
<text transform="matrix(0.9832,0,0,1,112.38,813.80)" font-family="'Liberation Serif', 'Times New Roman', serif" font-size="52" style="white-space:pre">1E-6</text>
<text transform="matrix(0.9701,0,0,1,112.43,1184.70)" font-family="'Liberation Serif', 'Times New Roman', serif" font-size="52" style="white-space:pre">1E-7</text>
<text transform="matrix(0.8270,0,0,1,237.78,1350.00)" font-family="'Liberation Serif', 'Times New Roman', serif" font-size="52" style="white-space:pre">1</text>
<text transform="matrix(0.9095,0,0,1,409.17,1362.00)" font-family="'Liberation Serif', 'Times New Roman', serif" font-size="52" style="white-space:pre">5</text>
<text transform="matrix(0.9890,0,0,1,607.85,1362.20)" font-family="'Liberation Serif', 'Times New Roman', serif" font-size="52" style="white-space:pre">10</text>
<text transform="matrix(0.9429,0,0,1,819.36,1362.00)" font-family="'Liberation Serif', 'Times New Roman', serif" font-size="52" style="white-space:pre">15</text>
<text transform="matrix(1.0325,0,0,1,1027.78,1361.70)" font-family="'Liberation Serif', 'Times New Roman', serif" font-size="52" style="white-space:pre">20</text>
<text transform="matrix(0.9969,0,0,1,1237.76,1362.00)" font-family="'Liberation Serif', 'Times New Roman', serif" font-size="52" style="white-space:pre">25</text>
<text transform="matrix(1.0295,0,0,1,1449.03,1362.00)" font-family="'Liberation Serif', 'Times New Roman', serif" font-size="52" style="white-space:pre">30</text>
<text transform="matrix(0.9811,0,0,1,1660.15,1362.00)" font-family="'Liberation Serif', 'Times New Roman', serif" font-size="52" style="white-space:pre">35</text>
</g>
<rect x="282" y="239" width="479" height="72" fill="none" stroke="#000" stroke-width="2"/>
<rect x="282" y="273" width="143" height="4" fill="#ff0000"/>
<text transform="matrix(1.0059,0,0,1,439.59,297.20)" font-family="'Liberation Serif', 'Times New Roman', serif" font-size="65" style="white-space:pre">feedback off</text>
<rect x="288.5" y="1001" width="470.5" height="72" fill="none" stroke="#000" stroke-width="2"/>
<rect x="289" y="1032.5" width="129" height="4" fill="#0000ff"/>
<text transform="matrix(0.9812,0,0,1,448.64,1058.30)" font-family="'Liberation Serif', 'Times New Roman', serif" font-size="65" style="white-space:pre">feedback on</text>
<rect x="1127" y="64" width="592" height="255" fill="none" stroke="#000" stroke-width="2"/>
<text transform="matrix(1.0013,0,0,1,1171.10,140.50)" font-family="'Liberation Serif', 'Times New Roman', serif" font-size="52" style="white-space:pre">FFT Spectrum Analyzer</text>
<text transform="matrix(1.0012,0,0,1,1171.50,213.00)" font-family="'Liberation Serif', 'Times New Roman', serif" font-size="52" style="white-space:pre">Bandwidth: 117 kHz</text>
<text transform="matrix(1.0013,0,0,1,1173.00,287.00)" font-family="'Liberation Serif', 'Times New Roman', serif" font-size="52" style="white-space:pre">Average: 16 times</text>
<rect x="873" y="939" width="806" height="331" fill="#fff" stroke="#000" stroke-width="2"/>
<text transform="matrix(0.9943,0,0,1,923.72,1016.80)" font-family="'Liberation Serif', 'Times New Roman', serif" font-size="52" style="white-space:pre">Sampling power: 4.1 mW</text>
<text transform="matrix(0.9883,0,0,1,924.72,1088.80)" font-family="'Liberation Serif', 'Times New Roman', serif" font-size="52" style="white-space:pre">Detector: New Focus Model 2051</text>
<text transform="matrix(0.9953,0,0,1,924.71,1163.00)" font-family="'Liberation Serif', 'Times New Roman', serif" font-size="52" style="white-space:pre">Bandwidth: 1 kHz ~ 100 kHz</text>
<text transform="matrix(0.9965,0,0,1,924.81,1236.80)" font-family="'Liberation Serif', 'Times New Roman', serif" font-size="52" style="white-space:pre">Gain factor: 3 x</text>
<text transform="matrix(0.9802,0,0,1,1513.96,527.80)" font-family="'Liberation Serif', 'Times New Roman', serif" font-size="65" style="white-space:pre">33 kHz</text>
<rect x="1599" y="560.5" width="8" height="155"/>
<path d="M1593,713 L1613,713 L1603,747 Z" fill="#000" stroke="#000" stroke-width="3" stroke-linejoin="round"/>
<text transform="matrix(0.9829,0,0,1,659.01,1456.00)" font-family="'Liberation Serif', 'Times New Roman', serif" font-size="65" font-weight="700" style="white-space:pre">Analysis Frequency (kHz)</text>
<text transform="translate(78.0,1023.70) rotate(-90) scale(0.9838,1)" font-family="'Liberation Serif', 'Times New Roman', serif" font-size="65" font-weight="700" style="white-space:pre">Spectral density  (V/</text>
<text transform="translate(78.0,432.78) rotate(-90) scale(0.9769,1)" font-family="'Liberation Serif', 'Times New Roman', serif" font-size="65" font-weight="700" style="white-space:pre">Hz)</text>
<text transform="translate(73.09,478.03) rotate(-90) scale(0.8595,0.9215)" font-family="'Noto Serif CJK SC', 'Liberation Serif', serif" font-size="65">√</text></svg>
</body></html>
